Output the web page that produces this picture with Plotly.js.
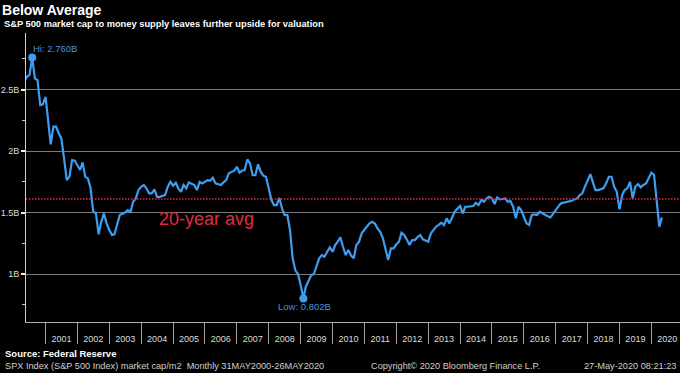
<!DOCTYPE html>
<html><head><meta charset="utf-8">
<script src="https://cdn.plot.ly/plotly-3.0.1.min.js"></script>
<style>html,body{margin:0;padding:0;background:#000;}#chart{width:680px;height:373px;}</style>
</head><body><div id="chart"></div>
<script>
// Monthly series: S&P 500 market cap / M2 (in B), May 2000 .. May 2020
const firstYear = 2000, firstMonth = 5;
const ratio = [
 2.563,2.604,2.62,2.76,2.59,2.577,2.374,2.38,2.44,2.238,
 2.054,2.198,2.198,2.144,2.103,1.94,1.764,1.79,1.927,1.921,
 1.886,1.846,1.908,1.79,1.778,1.697,1.507,1.493,1.323,1.425,
 1.493,1.412,1.358,1.317,1.323,1.412,1.48,1.49,1.50,1.52,
 1.507,1.588,1.615,1.683,1.71,1.724,1.697,1.656,1.656,1.689,
 1.628,1.628,1.635,1.642,1.71,1.75,1.718,1.742,1.697,1.669,
 1.724,1.697,1.745,1.735,1.724,1.683,1.75,1.737,1.75,1.764,
 1.759,1.783,1.737,1.729,1.724,1.745,1.764,1.819,1.83,1.84,
 1.872,1.824,1.84,1.846,1.932,1.9,1.805,1.805,1.892,1.832,
 1.80,1.791,1.697,1.602,1.561,1.561,1.62,1.534,1.48,1.48,
 1.358,1.13,1.03,1.0,0.911,0.802,0.897,0.95,0.99,1.0,
 1.073,1.128,1.154,1.141,1.181,1.217,1.181,1.236,1.263,1.298,
 1.222,1.154,1.195,1.15,1.128,1.236,1.263,1.331,1.36,1.385,
 1.412,1.425,1.41,1.37,1.344,1.29,1.2,1.114,1.209,1.209,
 1.24,1.263,1.336,1.317,1.28,1.236,1.276,1.276,1.30,1.317,
 1.282,1.27,1.263,1.331,1.358,1.385,1.40,1.417,1.398,1.453,
 1.412,1.466,1.507,1.53,1.553,1.493,1.547,1.547,1.55,1.553,
 1.58,1.561,1.602,1.588,1.615,1.628,1.615,1.569,1.623,1.607,
 1.61,1.615,1.588,1.593,1.547,1.453,1.547,1.52,1.466,1.412,
 1.398,1.48,1.485,1.48,1.507,1.493,1.48,1.47,1.461,1.493,
 1.52,1.55,1.575,1.58,1.585,1.588,1.596,1.607,1.615,1.64,
 1.656,1.71,1.76,1.813,1.75,1.683,1.683,1.69,1.697,1.737,
 1.791,1.791,1.71,1.669,1.526,1.642,1.683,1.697,1.75,1.615,
 1.71,1.732,1.705,1.724,1.737,1.778,1.824,1.805,1.60,1.385,
 1.461
];
const avg20y = 1.61;
const yearLabels = ['2001','2002','2003','2004','2005','2006','2007','2008','2009','2010',
                    '2011','2012','2013','2014','2015','2016','2017','2018','2019','2020'];
const yTickVals = [1, 1.5, 2, 2.5];
const yTickText = ['1B', '1.5B', '2B', '2.5B'];

function pad(n){ return (n<10?'0':'') + n; }
const dates = ratio.map((_, i) => {
  const m = firstMonth - 1 + i;
  return (firstYear + Math.floor(m/12)) + '-' + pad(m%12 + 1) + '-01';
});
const hiIdx = ratio.indexOf(Math.max(...ratio));
const loIdx = ratio.indexOf(Math.min(...ratio));

const ARIAL = '"Liberation Sans", Arial, sans-serif';
const lineColor = '#3d9df0';
const labelBlue = '#4b92dc';
const avgRed = '#e42a40';

const traces = [
  {x: dates, y: ratio, type: 'scatter', mode: 'lines',
   line: {color: lineColor, width: 2.2}, hoverinfo: 'skip'},
  {x: [dates[hiIdx], dates[loIdx]], y: [ratio[hiIdx], ratio[loIdx]], type: 'scatter', mode: 'markers',
   marker: {color: lineColor, size: 8}, hoverinfo: 'skip'}
];

const layout = {
  width: 680, height: 373,
  paper_bgcolor: '#000', plot_bgcolor: '#000',
  margin: {l: 26, r: 0, t: 33, b: 51},
  showlegend: false,
  title: {text: 'Below Average', x: 0.003, xref: 'container', xanchor: 'left',
          y: 0.973, yref: 'container', yanchor: 'middle',
          font: {family: ARIAL, size: 14, color: '#ffffff', weight: 'bold'}},
  xaxis: {
    type: 'date', range: ['2000-05-22', '2020-11-24'],
    tickmode: 'array',
    tickvals: yearLabels.map(y => y + '-07-02'),
    ticktext: yearLabels,
    ticks: '', ticklabelstandoff: 8,
    tickfont: {family: ARIAL, size: 9, color: '#dddddd'},
    showgrid: false, zeroline: false,
    showline: true, linecolor: '#b0b0b0', linewidth: 1,
    minor: {tickmode: 'array', tickvals: yearLabels.map(y => y + '-01-01'),
            ticks: 'outside', ticklen: 21, tickwidth: 1, tickcolor: '#a0a0a0', showgrid: false}
  },
  yaxis: {
    range: [0.61, 2.96],
    tickmode: 'array', tickvals: yTickVals, ticktext: yTickText,
    ticks: 'outside', ticklen: 4, tickwidth: 2, tickcolor: '#eeeeee',
    tickfont: {family: ARIAL, size: 9, color: '#dddddd'},
    showgrid: true, gridcolor: '#7a7a7a', gridwidth: 1, zeroline: false,
    showline: true, linecolor: '#d0d0d0', linewidth: 1,
    minor: {dtick: 0.25, tick0: 0, ticks: 'outside', ticklen: 3, tickwidth: 1, tickcolor: '#cccccc', showgrid: false}
  },
  shapes: [
    {type: 'line', xref: 'paper', x0: 0, x1: 1, yref: 'y', y0: avg20y, y1: avg20y,
     line: {color: avgRed, width: 1.4, dash: '1.5px,1.5px'}}
  ],
  annotations: [
    {text: 'S&P 500 market cap to money supply leaves further upside for valuation',
     xref: 'paper', yref: 'paper', x: -0.0367, y: 1.032, xanchor: 'left', yanchor: 'middle',
     showarrow: false, font: {family: ARIAL, size: 9.3, color: '#ffffff', weight: 'bold'}},
    {text: 'Hi: 2.760B', x: dates[hiIdx], y: ratio[hiIdx], xanchor: 'left', yanchor: 'bottom',
     xshift: -1, yshift: 2, showarrow: false, font: {family: ARIAL, size: 9.5, color: labelBlue}},
    {text: 'Low: 0.802B', x: dates[loIdx], y: ratio[loIdx], xanchor: 'center', yanchor: 'top',
     xshift: 1, yshift: -1, showarrow: false, font: {family: ARIAL, size: 9.5, color: labelBlue}},
    {text: '20-year avg', xref: 'paper', yref: 'paper', x: 0.2003, y: 0.356,
     xanchor: 'left', yanchor: 'middle', showarrow: false,
     font: {family: ARIAL, size: 18, color: avgRed}},
    {text: 'Source: Federal Reserve', xref: 'paper', yref: 'paper', x: -0.0352, y: -0.108,
     xanchor: 'left', yanchor: 'middle', showarrow: false,
     font: {family: ARIAL, size: 9.5, color: '#ffffff', weight: 'bold'}},
    {text: 'SPX Index (S&P 500 Index) market cap/m2  Monthly 31MAY2000-26MAY2020', xref: 'paper', yref: 'paper',
     x: -0.0352, y: -0.151, xanchor: 'left', yanchor: 'middle', showarrow: false,
     font: {family: ARIAL, size: 9.2, color: '#d0d0d0'}},
    {text: 'Copyright© 2020 Bloomberg Finance L.P.', xref: 'paper', yref: 'paper',
     x: 0.5245, y: -0.151, xanchor: 'left', yanchor: 'middle', showarrow: false,
     font: {family: ARIAL, size: 9.2, color: '#d0d0d0'}},
    {text: '27-May-2020 08:21:23', xref: 'paper', yref: 'paper',
     x: 0.997, y: -0.151, xanchor: 'right', yanchor: 'middle', showarrow: false,
     font: {family: ARIAL, size: 9.2, color: '#d0d0d0'}}
  ]
};

Plotly.newPlot('chart', traces, layout, {displayModeBar: false, staticPlot: true});
</script>
</body></html>
